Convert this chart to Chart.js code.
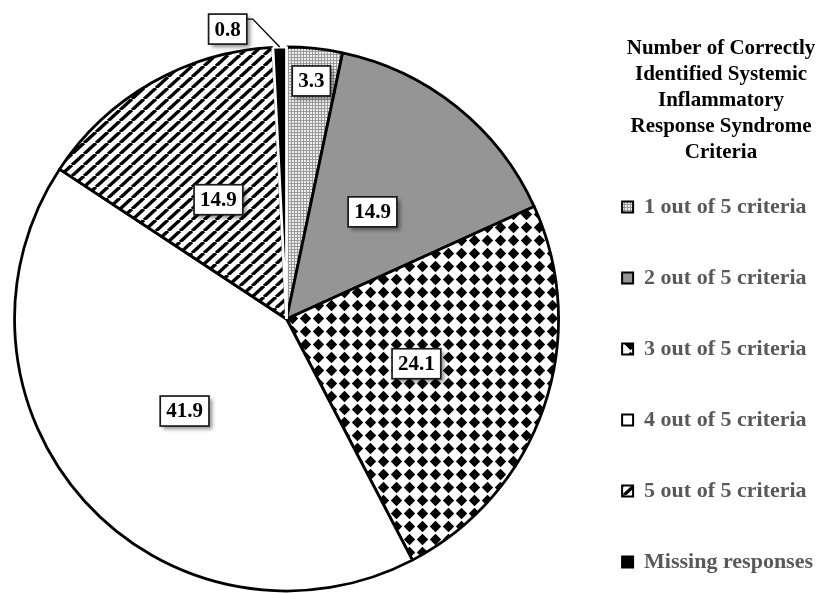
<!DOCTYPE html>
<html><head><meta charset="utf-8">
<script src="https://cdn.jsdelivr.net/npm/chart.js@4.4.1/dist/chart.umd.min.js"></script>
<style>html,body{margin:0;padding:0;background:#fff;}</style>
</head><body>
<canvas id="c" width="823" height="593"></canvas>
<script>
// ---- data ----
const categories = ['1 out of 5 criteria', '2 out of 5 criteria', '3 out of 5 criteria', '4 out of 5 criteria', '5 out of 5 criteria', 'Missing responses'];
const values = [3.3, 14.9, 24.1, 41.9, 14.9, 0.8];
const legendTitleLines = ['Number of Correctly', 'Identified Systemic', 'Inflammatory', 'Response Syndrome', 'Criteria'];

// ---- patterns ----
function makePattern(w, h, draw) {
  const c = document.createElement('canvas');
  c.width = w; c.height = h;
  const x = c.getContext('2d');
  draw(x, w, h);
  return x.createPattern(c, 'repeat');
}
const stipple = makePattern(3, 3, (x) => {
  x.fillStyle = '#9a9a9a'; x.fillRect(0, 0, 3, 3);
  x.fillStyle = '#eeeeee'; x.fillRect(1, 1, 2, 2);
});
const diamonds = makePattern(13, 13, (x) => {
  x.fillStyle = '#fff'; x.fillRect(0, 0, 13, 13);
  x.fillStyle = '#000';
  x.beginPath();
  x.moveTo(6.5, 0.8); x.lineTo(12.2, 6.5); x.lineTo(6.5, 12.2); x.lineTo(0.8, 6.5);
  x.closePath(); x.fill();
});
const stripes = makePattern(12, 11, (x, w, h) => {
  x.fillStyle = '#fff'; x.fillRect(0, 0, w, h);
  x.strokeStyle = '#000'; x.lineWidth = 3.4;
  for (const o of [-w, 0, w]) {
    x.beginPath(); x.moveTo(o, h); x.lineTo(o + w, 0); x.stroke();
  }
});
const fills = [stipple, '#959595', diamonds, '#ffffff', stripes, '#000000'];
const borders = ['#000', '#000', '#000', '#000', '#000', '#fff'];

// ---- label placement (style) ----
const radialFraction = [0.88, 0.505, 0.505, 0.505, 0.505, null];
const callout = { index: 5, dx: -52, dy: -18 };

function drawBox(ctx, cx, cy, text) {
  const tw = ctx.measureText(text).width;
  const w = tw + 12, h = 30;
  const l = cx - w / 2, t = cy - h / 2;
  ctx.save();
  ctx.shadowColor = 'rgba(0,0,0,0.45)';
  ctx.shadowBlur = 4; ctx.shadowOffsetX = 3; ctx.shadowOffsetY = 3;
  ctx.fillStyle = '#fff';
  ctx.fillRect(l, t, w, h);
  ctx.restore();
  ctx.strokeStyle = '#1a1a1a'; ctx.lineWidth = 1.7;
  ctx.strokeRect(l, t, w, h);
  ctx.fillStyle = '#000';
  ctx.textAlign = 'center'; ctx.textBaseline = 'middle';
  ctx.fillText(text, cx, cy + 1);
  return { l, t, w, h };
}

const labelPlugin = {
  id: 'boxLabels',
  afterDatasetsDraw(chart) {
    const ctx = chart.ctx;
    const meta = chart.getDatasetMeta(0);
    const data = chart.data.datasets[0].data;
    ctx.save();
    ctx.font = 'bold 21px "Liberation Serif", "Times New Roman", serif';
    meta.data.forEach((arc, i) => {
      const p = arc.getProps(['x', 'y', 'startAngle', 'endAngle', 'outerRadius'], true);
      const mid = (p.startAngle + p.endAngle) / 2;
      const text = data[i].toFixed(1);
      if (i === callout.index) {
        const ox = p.x + p.outerRadius * Math.cos(mid);
        const oy = p.y + p.outerRadius * Math.sin(mid);
        const cx = ox + callout.dx, cy = oy + callout.dy;
        const tw = ctx.measureText(text).width + 12;
        const r = cx + tw / 2, t = cy - 15;
        ctx.strokeStyle = '#000'; ctx.lineWidth = 1.4;
        ctx.beginPath();
        ctx.moveTo(r, t + 5); ctx.lineTo(r + 6, t + 5); ctx.lineTo(ox, oy);
        ctx.stroke();
        drawBox(ctx, cx, cy, text);
      } else {
        const rr = p.outerRadius * radialFraction[i];
        drawBox(ctx, p.x + rr * Math.cos(mid), p.y + rr * Math.sin(mid), text);
      }
    });
    ctx.restore();
  }
};

const legendTitlePlugin = {
  id: 'legendTitleLines',
  afterDraw(chart) {
    const ctx = chart.ctx;
    ctx.save();
    ctx.font = 'bold 21px "Liberation Serif", "Times New Roman", serif';
    ctx.fillStyle = '#000';
    ctx.textAlign = 'center'; ctx.textBaseline = 'middle';
    legendTitleLines.forEach((line, i) => ctx.fillText(line, 721, 49 + i * 26));
    ctx.restore();
  }
};

new Chart(document.getElementById('c'), {
  type: 'pie',
  data: {
    labels: categories,
    datasets: [{
      data: values,
      backgroundColor: fills,
      borderColor: borders,
      borderWidth: 2.8,
      radius: 272
    }]
  },
  options: {
    responsive: false,
    animation: false,
    events: [],
    layout: { padding: { top: 45, bottom: -45, left: 0, right: 0 } },
    plugins: {
      tooltip: { enabled: false },
      legend: {
        position: 'right',
        align: 'start',
        title: {
          display: true,
          text: '',
          font: { size: 20, lineHeight: 1.2 },
          padding: { top: 0, bottom: 78 }
        },
        labels: {
          boxWidth: 11,
          boxHeight: 11,
          padding: 49,
          color: '#595959',
          font: { family: '"Liberation Serif", "Times New Roman", serif', size: 22, weight: 'bold' },
          generateLabels(chart) {
            const items = Chart.overrides.pie.plugins.legend.labels.generateLabels(chart);
            items.forEach(it => { it.strokeStyle = '#000'; it.lineWidth = 2; });
            return items;
          }
        }
      }
    }
  },
  plugins: [labelPlugin, legendTitlePlugin]
});
</script>
</body></html>
